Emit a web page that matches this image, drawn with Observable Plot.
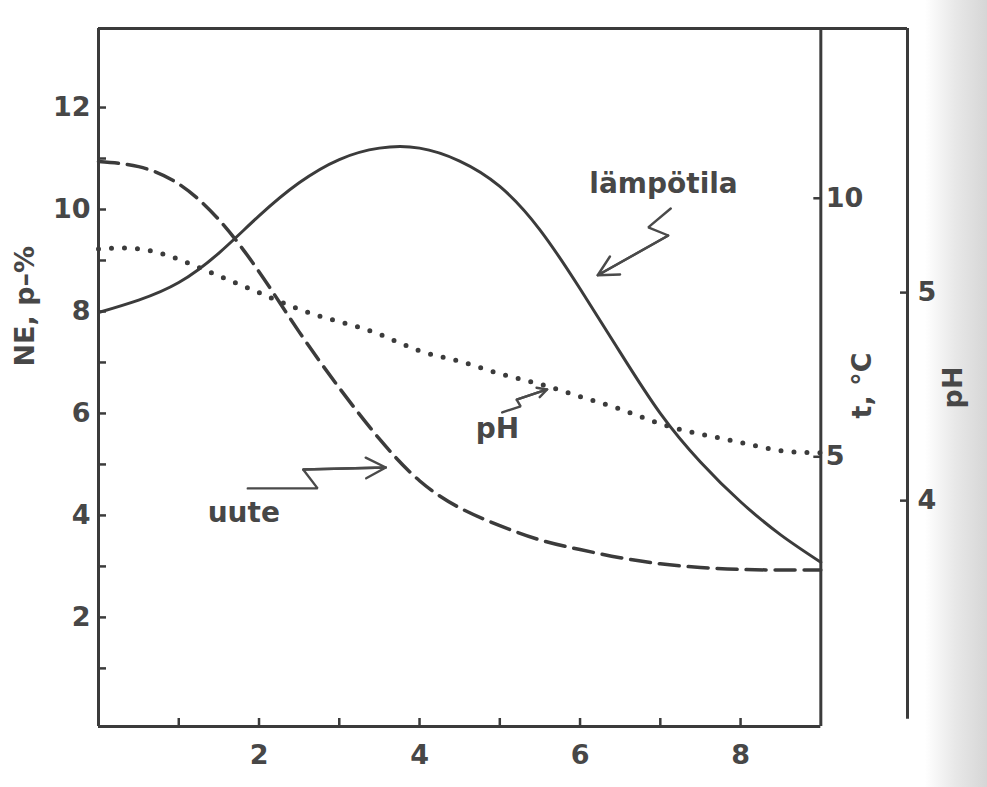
<!DOCTYPE html>
<html>
<head>
<meta charset="utf-8">
<script src="https://cdn.jsdelivr.net/npm/d3@7"></script>
<script src="https://cdn.jsdelivr.net/npm/@observablehq/plot@0.6"></script>
<style>
  html, body { margin: 0; padding: 0; }
  body {
    width: 987px; height: 787px; overflow: hidden;
    background: linear-gradient(to right, #ffffff 0px, #ffffff 925px, #e8e8e8 955px, #d6d6d6 987px);
  }
  #chart svg { display: block; }
</style>
</head>
<body>
<div id="chart"></div>
<script>
// ---- data ----
const days = [0, 0.5, 1, 1.5, 2, 2.5, 3, 3.5, 4, 4.5, 5, 5.5, 6, 6.5, 7, 7.5, 8, 8.5, 9];
// lämpötila, °C (right inner axis)
const temperature = [7.79, 8.03, 8.37, 8.94, 9.66, 10.30, 10.75, 10.97, 10.97, 10.72, 10.23, 9.39, 8.25, 7.02, 5.84, 4.90, 4.13, 3.49, 2.96];
// uute, NE p-% (left axis)
const extract = [10.94, 10.84, 10.50, 9.80, 8.78, 7.60, 6.50, 5.50, 4.68, 4.15, 3.80, 3.52, 3.33, 3.17, 3.05, 2.98, 2.94, 2.93, 2.93];
// pH (right outer axis)
const pHvalues = [5.21, 5.21, 5.16, 5.08, 5.00, 4.92, 4.86, 4.80, 4.72, 4.67, 4.61, 4.56, 4.50, 4.44, 4.37, 4.32, 4.28, 4.24, 4.23];

// ticks
const xTicks = [1, 2, 3, 4, 5, 6, 7, 8];
const neTicks = [1, 2, 3, 4, 5, 6, 7, 8, 9, 10, 11, 12];
const tTicks = [5, 10];
const pHTicks = [4, 5];

// axis titles
const leftTitle = "NE, p–%";
const tTitle = "t, °C";
const pHTitle = "pH";

// annotations (label + zig-zag arrow, in left-axis units)
const labels = [
  {text: "lämpötila", x: 7.04, y: 10.49},
  {text: "uute", x: 1.81, y: 4.04},
  {text: "pH", x: 4.97, y: 5.69}
];
const tempArrow = [{x: 7.13, y: 10.02}, {x: 6.85, y: 9.65}, {x: 7.10, y: 9.49}, {x: 6.22, y: 8.71}];
const uuteArrow = [{x: 1.86, y: 4.53}, {x: 2.73, y: 4.53}, {x: 2.55, y: 4.90}, {x: 3.58, y: 4.94}];
const pHArrow = [{x: 5.03, y: 6.02}, {x: 5.26, y: 6.14}, {x: 5.21, y: 6.27}, {x: 5.59, y: 6.47}];

// ---- layout ----
const W = 987, H = 787;
const mL = 98, mR = 80, mT = 28, mB = 61;
const xMax = 10.08, xEnd = 9;
const yMin = -0.14, yMax = 13.55;
const pxPerX = (W - mL - mR) / xMax;
const tAxisDx = -(xMax - xEnd) * pxPerX;
const ink = "#3b3b3b";
const arrowInk = "#4a4a4a";

// secondary axes mapped onto the left (NE) scale
const tToY = d3.scaleLinear().domain([5, 10]).range([5.15, 10.22]);
const pHToY = d3.scaleLinear().domain([4, 5]).range([4.29, 8.37]);

const series = days.map((d, i) => ({day: d, t: temperature[i], e: extract[i], ph: pHvalues[i]}));

// zig-zag body + arrow head on the last segment
const arrows = [tempArrow, uuteArrow, pHArrow];
const arrowHeads = arrows.map(a => ({x1: a[a.length - 2].x, y1: a[a.length - 2].y, x2: a[a.length - 1].x, y2: a[a.length - 1].y}));

const chart = Plot.plot({
  width: W, height: H,
  marginLeft: mL, marginRight: mR, marginTop: mT, marginBottom: mB,
  x: {domain: [0, xMax]},
  y: {domain: [yMin, yMax]},
  style: {
    fontFamily: "'DejaVu Sans', sans-serif",
    fontSize: "27px",
    fontWeight: "bold",
    color: "#474747",
    background: "transparent",
    overflow: "visible"
  },
  marks: [
    // frame
    Plot.ruleX([0], {y1: yMin, y2: yMax, stroke: ink, strokeWidth: 3}),
    Plot.ruleY([yMin], {x1: 0, x2: xEnd, stroke: ink, strokeWidth: 3}),
    Plot.ruleY([yMax], {x1: 0, x2: xMax, stroke: ink, strokeWidth: 3}),
    Plot.ruleX([xEnd], {y1: yMin, y2: yMax, stroke: ink, strokeWidth: 3}),
    Plot.ruleX([xMax], {y1: 0, y2: yMax, stroke: ink, strokeWidth: 3}),

    // axes
    Plot.axisX(xTicks, {anchor: "bottom", tickSize: -8, tickPadding: 26, strokeWidth: 2.5, stroke: ink,
      tickFormat: d => d % 2 === 0 ? String(d) : "", label: null}),
    Plot.axisY(neTicks, {anchor: "left", tickSize: -8, tickPadding: 16, strokeWidth: 2.5, stroke: ink,
      tickFormat: d => d % 2 === 0 ? String(d) : "", label: null}),
    Plot.axisY(tTicks.map(v => tToY(v)), {anchor: "right", dx: tAxisDx, tickSize: -8, tickPadding: 13, strokeWidth: 2.5, stroke: ink,
      tickFormat: d => String(Math.round(tToY.invert(d))), label: null}),
    Plot.axisY(pHTicks.map(v => pHToY(v)), {anchor: "right", tickSize: -8, tickPadding: 18, strokeWidth: 2.5, stroke: ink,
      tickFormat: d => String(Math.round(pHToY.invert(d))), label: null}),

    // axis titles
    Plot.text([leftTitle], {frameAnchor: "left", rotate: -90, dx: -73, dy: -11, fill: "#474747"}),
    Plot.text([tTitle], {frameAnchor: "right", rotate: -90, dx: -45, dy: -25, fill: "#474747"}),
    Plot.text([pHTitle], {frameAnchor: "right", rotate: -90, dx: 46, dy: -11, fill: "#474747"}),

    // curves
    Plot.line(series, {x: "day", y: d => tToY(d.t), curve: "natural", stroke: ink, strokeWidth: 3}),
    Plot.line(series, {x: "day", y: "e", curve: "natural", stroke: ink, strokeWidth: 3.5, strokeDasharray: "20 9"}),
    Plot.line(series, {x: "day", y: d => pHToY(d.ph), curve: "natural", stroke: ink, strokeWidth: 5,
      strokeDasharray: "0 13", strokeLinecap: "round"}),

    // annotation arrows
    ...arrows.map(a => Plot.line(a, {x: "x", y: "y", stroke: arrowInk, strokeWidth: 2.4, strokeLinejoin: "miter"})),
    Plot.arrow(arrowHeads, {x1: "x1", y1: "y1", x2: "x2", y2: "y2", stroke: arrowInk, strokeWidth: 2.4,
      headLength: 14, headAngle: 55}),

    // annotation labels
    Plot.text(labels, {x: "x", y: "y", text: "text", fill: "#474747", fontSize: 28})
  ]
});
document.getElementById("chart").appendChild(chart);
</script>
</body>
</html>
